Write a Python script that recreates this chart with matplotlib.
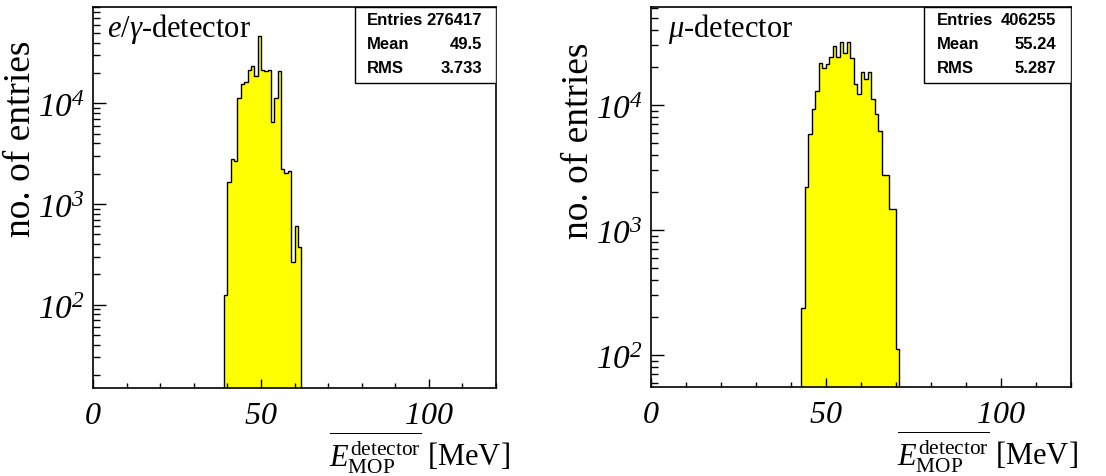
import numpy as np
import matplotlib
matplotlib.use('Agg')
import matplotlib.pyplot as plt
from matplotlib.patches import Rectangle
from matplotlib.ticker import FixedLocator, LogLocator, NullFormatter

plt.rcParams['mathtext.fontset'] = 'custom'
plt.rcParams['mathtext.rm'] = 'Liberation Serif'
plt.rcParams['mathtext.it'] = 'Liberation Serif:italic'
plt.rcParams['mathtext.bf'] = 'Liberation Serif:bold'
# italic digits for the tick labels (mathit keeps digits upright)
plt.rcParams['mathtext.sf'] = 'Liberation Serif:italic'

# e/gamma detector: 1 MeV bins from 39 to 62
eg_edges = np.arange(39, 63, 1)
eg_counts = [125, 1665, 2800, 2655, 11300, 15560, 16400, 21600, 23600, 18800,
             46900, 21600, 20800, 21600, 6470, 11300, 21100, 2230, 2030, 2140,
             264, 610, 372]

# mu detector: 1 MeV bins from 43 to 71
mu_edges = np.arange(43, 72, 1)
mu_counts = [236, 2196, 5865, 9290, 13010, 21570, 19770, 21290, 24090, 29800,
             24090, 31750, 25930, 31750, 23640, 14720, 12250, 18260, 16140, 18260,
             11170, 8470, 6230, 2766, 2766, 1472, 1472, 112]

titles = [r'$e/\gamma$-detector', r'$\mu$-detector']
stats = [('276417', '49.5', '3.733'), ('406255', '55.24', '5.287')]
ylims = [(14.9, 9.04e4), (55.5, 6.08e4)]

fig = plt.figure(figsize=(11.06, 4.77), dpi=100)
axes = [fig.add_axes([0.0841, 0.1845, 0.3644, 0.7987]),
        fig.add_axes([0.5886, 0.1866, 0.3797, 0.7966])]

data = [(eg_edges, eg_counts), (mu_edges, mu_counts)]
xlab_x = [1.035, 1.017]
ylab_pos = [(-0.137, 0.915), (-0.131, 0.91)]
title_x = [0.035, 0.04]
for i, ax in enumerate(axes):
    edges, counts = data[i]
    ax.stairs(counts, edges, baseline=1e-3, fill=True, color='#ffff00')
    ax.stairs(counts, edges, baseline=1e-3, color='black', lw=1.0)
    ax.set_yscale('log')
    ax.set_xlim(0, 120)
    ax.set_ylim(*ylims[i])

    ax.xaxis.set_major_locator(FixedLocator([0, 50, 100]))
    ax.xaxis.set_minor_locator(FixedLocator(np.arange(0, 121, 10)))
    ax.set_xticklabels([r'$\mathsf{0}$', r'$\mathsf{50}$', r'$\mathsf{100}$'])
    ax.yaxis.set_major_locator(FixedLocator([1e2, 1e3, 1e4]))
    ax.yaxis.set_minor_locator(LogLocator(base=10, subs=np.arange(2, 10)))
    ax.yaxis.set_minor_formatter(NullFormatter())
    ax.set_yticklabels([r'$\mathsf{10^{2}}$', r'$\mathsf{10^{3}}$', r'$\mathsf{10^{4}}$'])

    ax.tick_params(axis='both', which='both', direction='in', top=False, right=False)
    ax.tick_params(axis='y', which='major', length=9.5, width=1.0, labelsize=24, pad=6)
    ax.tick_params(axis='y', which='minor', length=5, width=1.0)
    ax.tick_params(axis='x', which='major', length=6.5, width=1.0, labelsize=23, pad=8)
    ax.tick_params(axis='x', which='minor', length=3.3, width=1.0)
    for s in ax.spines.values():
        s.set_linewidth(1.2)

    ax.set_ylabel('no. of entries', family='Liberation Serif', fontsize=27, loc='top')
    ax.yaxis.set_label_coords(*ylab_pos[i])
    ax.set_xlabel(r'$\overline{E^{\mathrm{detector}}_{\mathrm{MOP}}}$ [MeV]',
                  family='Liberation Serif', fontsize=22, loc='right')
    ax.xaxis.set_label_coords(xlab_x[i], -0.105)

    ax.text(title_x[i], 0.99, titles[i], transform=ax.transAxes, ha='left', va='top',
            family='Liberation Serif', fontsize=22)

    # stats box
    ax.add_patch(Rectangle((0.65, 0.80), 0.35, 0.20, transform=ax.transAxes,
                           facecolor='white', edgecolor='black', lw=1.0, zorder=5))
    rows = ['Entries', 'Mean', 'RMS']
    for j in range(3):
        y = 0.967 - j * 0.063
        ax.text(0.68, y, rows[j], transform=ax.transAxes, ha='left', va='center',
                family='Liberation Sans', weight='bold', fontsize=12, zorder=6)
        ax.text(0.965, y, stats[i][j], transform=ax.transAxes, ha='right', va='center',
                family='Liberation Sans', weight='bold', fontsize=12, zorder=6)

fig.savefig('out.png', dpi=100)
